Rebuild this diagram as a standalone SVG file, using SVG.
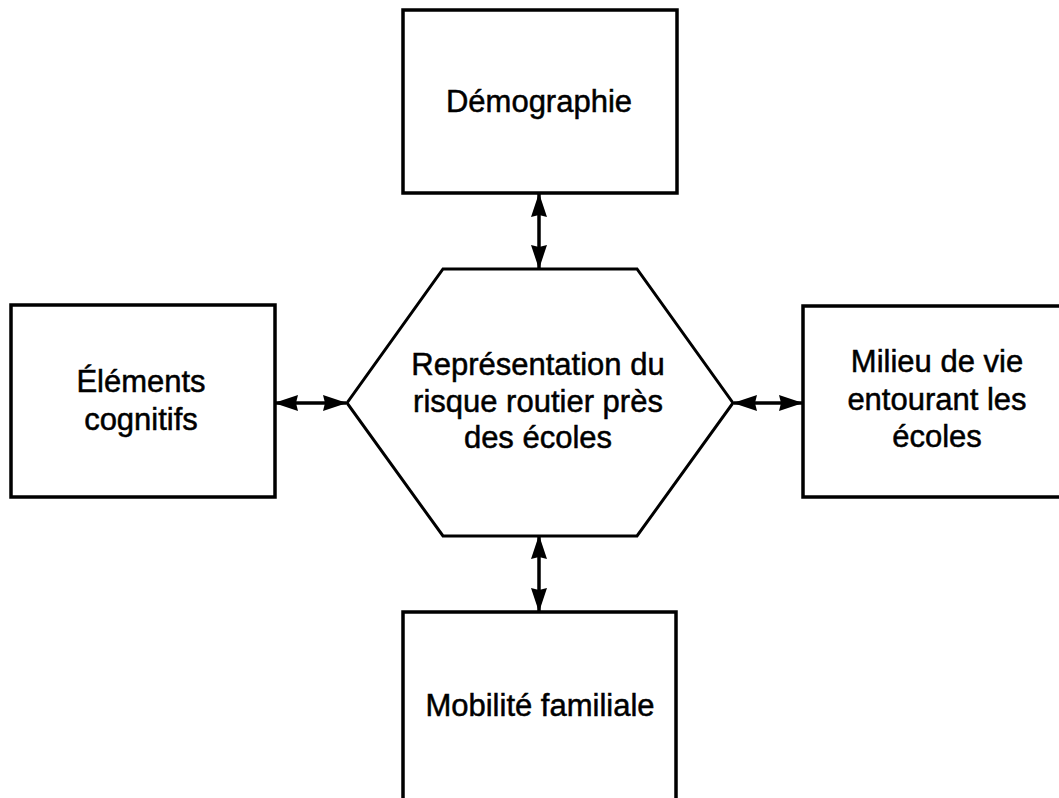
<svg xmlns="http://www.w3.org/2000/svg" width="1059" height="798" viewBox="0 0 1059 798">
  <style>
    .box { fill: #ffffff; stroke: #000000; stroke-width: 3.5; }
    .hex { fill: #ffffff; stroke: #000000; stroke-width: 3; stroke-linejoin: miter; }
    .label { font-family: "Liberation Sans", Arial, sans-serif; font-size: 31px; fill: #000000; stroke: #000000; stroke-width: 0.5; text-anchor: middle; }
    .link { stroke: #000000; stroke-width: 3.5; fill: none; }
  </style>
  <defs>
    <marker id="arrow" viewBox="0 0 24 16" refX="23" refY="8" markerWidth="24" markerHeight="16" markerUnits="userSpaceOnUse" orient="auto-start-reverse">
      <path d="M0,0 L24,8 L0,16 L2,8 Z" fill="#000000"/>
    </marker>
  </defs>
  <rect x="0" y="0" width="1059" height="798" fill="#ffffff"/>

  <!-- two-way links between the centre and the four factors -->
  <g id="connectors">
    <line class="link" x1="539" y1="194" x2="539" y2="268" marker-start="url(#arrow)" marker-end="url(#arrow)"/>
    <line class="link" x1="539" y1="536" x2="539" y2="611" marker-start="url(#arrow)" marker-end="url(#arrow)"/>
    <line class="link" x1="275" y1="403" x2="346" y2="403" marker-start="url(#arrow)" marker-end="url(#arrow)"/>
    <line class="link" x1="734" y1="403" x2="802" y2="403" marker-start="url(#arrow)" marker-end="url(#arrow)"/>
  </g>

  <g id="demographie">
    <rect class="box" x="403" y="10" width="274" height="183"/>
    <text class="label" x="539" y="112">Démographie</text>
  </g>

  <g id="elements-cognitifs">
    <rect class="box" x="11" y="305" width="264" height="192"/>
    <text class="label" x="141" y="392">Éléments</text>
    <text class="label" x="141" y="430">cognitifs</text>
  </g>

  <g id="representation-risque">
    <polygon class="hex" points="443,269 637,269 733,403 637,536 443,536 347,403"/>
    <text class="label" x="538" y="375">Représentation du</text>
    <text class="label" x="538" y="412">risque routier près</text>
    <text class="label" x="538" y="448">des écoles</text>
  </g>

  <g id="milieu-de-vie">
    <rect class="box" x="803" y="306" width="270" height="191"/>
    <text class="label" x="937" y="372">Milieu de vie</text>
    <text class="label" x="937" y="410">entourant les</text>
    <text class="label" x="937" y="447">écoles</text>
  </g>

  <g id="mobilite-familiale">
    <rect class="box" x="403" y="612" width="273" height="200"/>
    <text class="label" x="540" y="716">Mobilité familiale</text>
  </g>
</svg>
